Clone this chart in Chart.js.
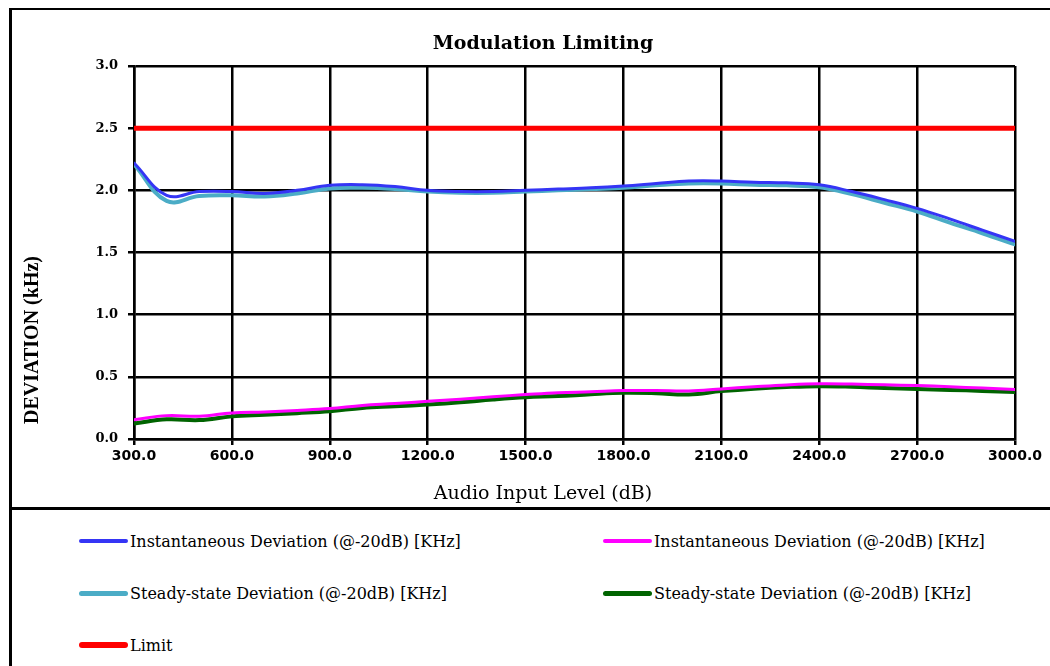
<!DOCTYPE html>
<html>
<head>
<meta charset="utf-8">
<script src="https://cdn.jsdelivr.net/npm/chart.js@4.4.1/dist/chart.umd.min.js"></script>
<style>
  html, body { margin: 0; padding: 0; background: #fff; }
  #page { position: relative; width: 1050px; height: 666px; overflow: hidden; background: #fff; }
  #frame { position: absolute; left: 9px; top: 8px; right: -5px; bottom: -5px;
           border-left: 3px solid #000; border-top: 2px solid #000; }
  #sep { position: absolute; left: 9px; right: 0; top: 507px; height: 3px; background: #000; }
  #wrap { position: absolute; left: 12px; top: 11px; width: 1038px; height: 496px; }
  #legend { position: absolute; left: 79px; top: 515px; display: grid;
            grid-template-columns: 524px 420px; grid-auto-rows: 52px; }
  .item { display: flex; align-items: center; font-family: "DejaVu Serif", serif;
          font-size: 16px; color: #000; white-space: nowrap; }
  .swatch { display: inline-block; width: 49px; margin-right: 2px; border-radius: 3px; }
</style>
</head>
<body>
<div id="page">
  <div id="frame"></div>
  <div id="sep"></div>
  <div id="wrap"><canvas id="modChart"></canvas></div>
  <div id="legend"></div>
</div>
<script>
// audio input level (x axis)
const levels = [300, 400, 500, 600, 700, 800, 900, 1000, 1100, 1200, 1300, 1400, 1500, 1600,
                1700, 1800, 1900, 2000, 2100, 2200, 2300, 2400, 2500, 2600, 2700, 2800, 2900, 3000];

const instHigh = [2.22, 1.96, 1.99, 1.99, 1.975, 2.0, 2.04, 2.045, 2.03, 2.0, 1.99, 1.99, 2.0, 2.01,
                  2.02, 2.035, 2.055, 2.075, 2.075, 2.065, 2.06, 2.045, 1.99, 1.925, 1.855, 1.77, 1.68, 1.59];
const steadyHigh = [2.21, 1.915, 1.955, 1.96, 1.95, 1.975, 2.015, 2.02, 2.01, 1.99, 1.98, 1.98, 1.99, 2.0,
                    2.01, 2.02, 2.04, 2.055, 2.055, 2.045, 2.04, 2.025, 1.97, 1.9, 1.83, 1.74, 1.655, 1.565];
const instLow = [0.155, 0.188, 0.183, 0.21, 0.218, 0.23, 0.245, 0.27, 0.285, 0.303, 0.32, 0.34, 0.357, 0.372,
                 0.38, 0.39, 0.39, 0.387, 0.403, 0.42, 0.435, 0.444, 0.442, 0.436, 0.43, 0.42, 0.41, 0.398];
const steadyLow = [0.124, 0.158, 0.152, 0.182, 0.195, 0.208, 0.223, 0.25, 0.263, 0.277, 0.295, 0.318, 0.336, 0.345,
                   0.36, 0.371, 0.368, 0.358, 0.385, 0.405, 0.418, 0.425, 0.42, 0.41, 0.403, 0.395, 0.387, 0.377];
const limitX = [300, 3000];
const limitY = [2.5, 2.5];

const seriesLabels = [
  "Instantaneous Deviation (@-20dB) [KHz]",
  "Instantaneous Deviation (@-20dB) [KHz]",
  "Steady-state Deviation (@-20dB) [KHz]",
  "Steady-state Deviation (@-20dB) [KHz]",
  "Limit"
];

const pts = (xs, ys) => xs.map((x, i) => ({ x: x, y: ys[i] }));

// rotated y title, centred on the whole frame rather than the plot
const yTitlePlugin = {
  id: "yTitle",
  afterDraw(chart, args, opts) {
    const ctx = chart.ctx;
    ctx.save();
    ctx.translate(opts.x, opts.y);
    ctx.rotate(-Math.PI / 2);
    ctx.font = opts.font;
    ctx.fillStyle = "#000";
    ctx.textAlign = "center";
    ctx.textBaseline = "middle";
    ctx.fillText(opts.text, 0, 0);
    ctx.restore();
  }
};

Chart.defaults.color = "#000";
Chart.defaults.font.family = "'DejaVu Serif', serif";

const gridOpts = { color: "#000", lineWidth: 2.5, tickLength: 6, tickColor: "#000" };

const chart = new Chart(document.getElementById("modChart"), {
  type: "line",
  data: {
    datasets: [
      { label: seriesLabels[0], data: pts(levels, instHigh), borderColor: "#3535f5", borderWidth: 3 },
      { label: seriesLabels[1], data: pts(levels, instLow), borderColor: "#ff00ff", borderWidth: 3 },
      { label: seriesLabels[2], data: pts(levels, steadyHigh), borderColor: "#4bacc6", borderWidth: 4 },
      { label: seriesLabels[3], data: pts(levels, steadyLow), borderColor: "#006400", borderWidth: 4 },
      { label: seriesLabels[4], data: pts(limitX, limitY), borderColor: "#ff0000", borderWidth: 5 }
    ]
  },
  options: {
    responsive: true,
    maintainAspectRatio: false,
    animation: false,
    elements: {
      point: { radius: 0 },
      line: { tension: 0.4, fill: false, borderCapStyle: "round" }
    },
    layout: { padding: { left: 59, right: 35, top: 0, bottom: 0 } },
    plugins: {
      legend: { display: false },
      tooltip: { enabled: false },
      title: {
        display: true,
        text: "Modulation Limiting",
        font: { size: 19, weight: "bold" },
        padding: { top: 21.6, bottom: 10.6 }
      },
      subtitle: {
        display: true,
        position: "bottom",
        text: "Audio Input Level (dB)",
        font: { size: 19, weight: "normal" },
        padding: { top: 13.6, bottom: 1.6 }
      },
      yTitle: {
        text: "DEVIATION (kHz)",
        font: "bold 20px 'Liberation Serif', serif",
        x: 21,
        y: 329
      }
    },
    scales: {
      x: {
        type: "linear",
        min: 300,
        max: 3000,
        grid: gridOpts,
        border: { display: true, color: "#000", width: 2.5 },
        ticks: {
          stepSize: 300,
          padding: 3,
          maxRotation: 0,
          font: { family: "'DejaVu Sans', sans-serif", size: 14, weight: "bold" },
          callback: v => v.toFixed(1)
        },
        afterFit: s => { s.height = 30; s.paddingLeft = 0; s.paddingRight = 0; }
      },
      y: {
        min: 0,
        max: 3,
        grid: gridOpts,
        border: { display: true, color: "#000", width: 2.5 },
        ticks: {
          stepSize: 0.5,
          padding: 10,
          font: { size: 13, weight: "bold" },
          callback: v => v.toFixed(1)
        },
        afterFit: s => { s.width = 63; s.paddingTop = 0; s.paddingBottom = 0; }
      }
    }
  },
  plugins: [yTitlePlugin]
});

// two-column legend under the plot, built from the chart's datasets
const legendBox = document.getElementById("legend");
chart.data.datasets.forEach(ds => {
  const item = document.createElement("div");
  item.className = "item";
  const sw = document.createElement("span");
  sw.className = "swatch";
  sw.style.background = ds.borderColor;
  sw.style.height = (ds.borderWidth + 1) + "px";
  item.appendChild(sw);
  item.appendChild(document.createTextNode(ds.label));
  legendBox.appendChild(item);
});
</script>
</body>
</html>
